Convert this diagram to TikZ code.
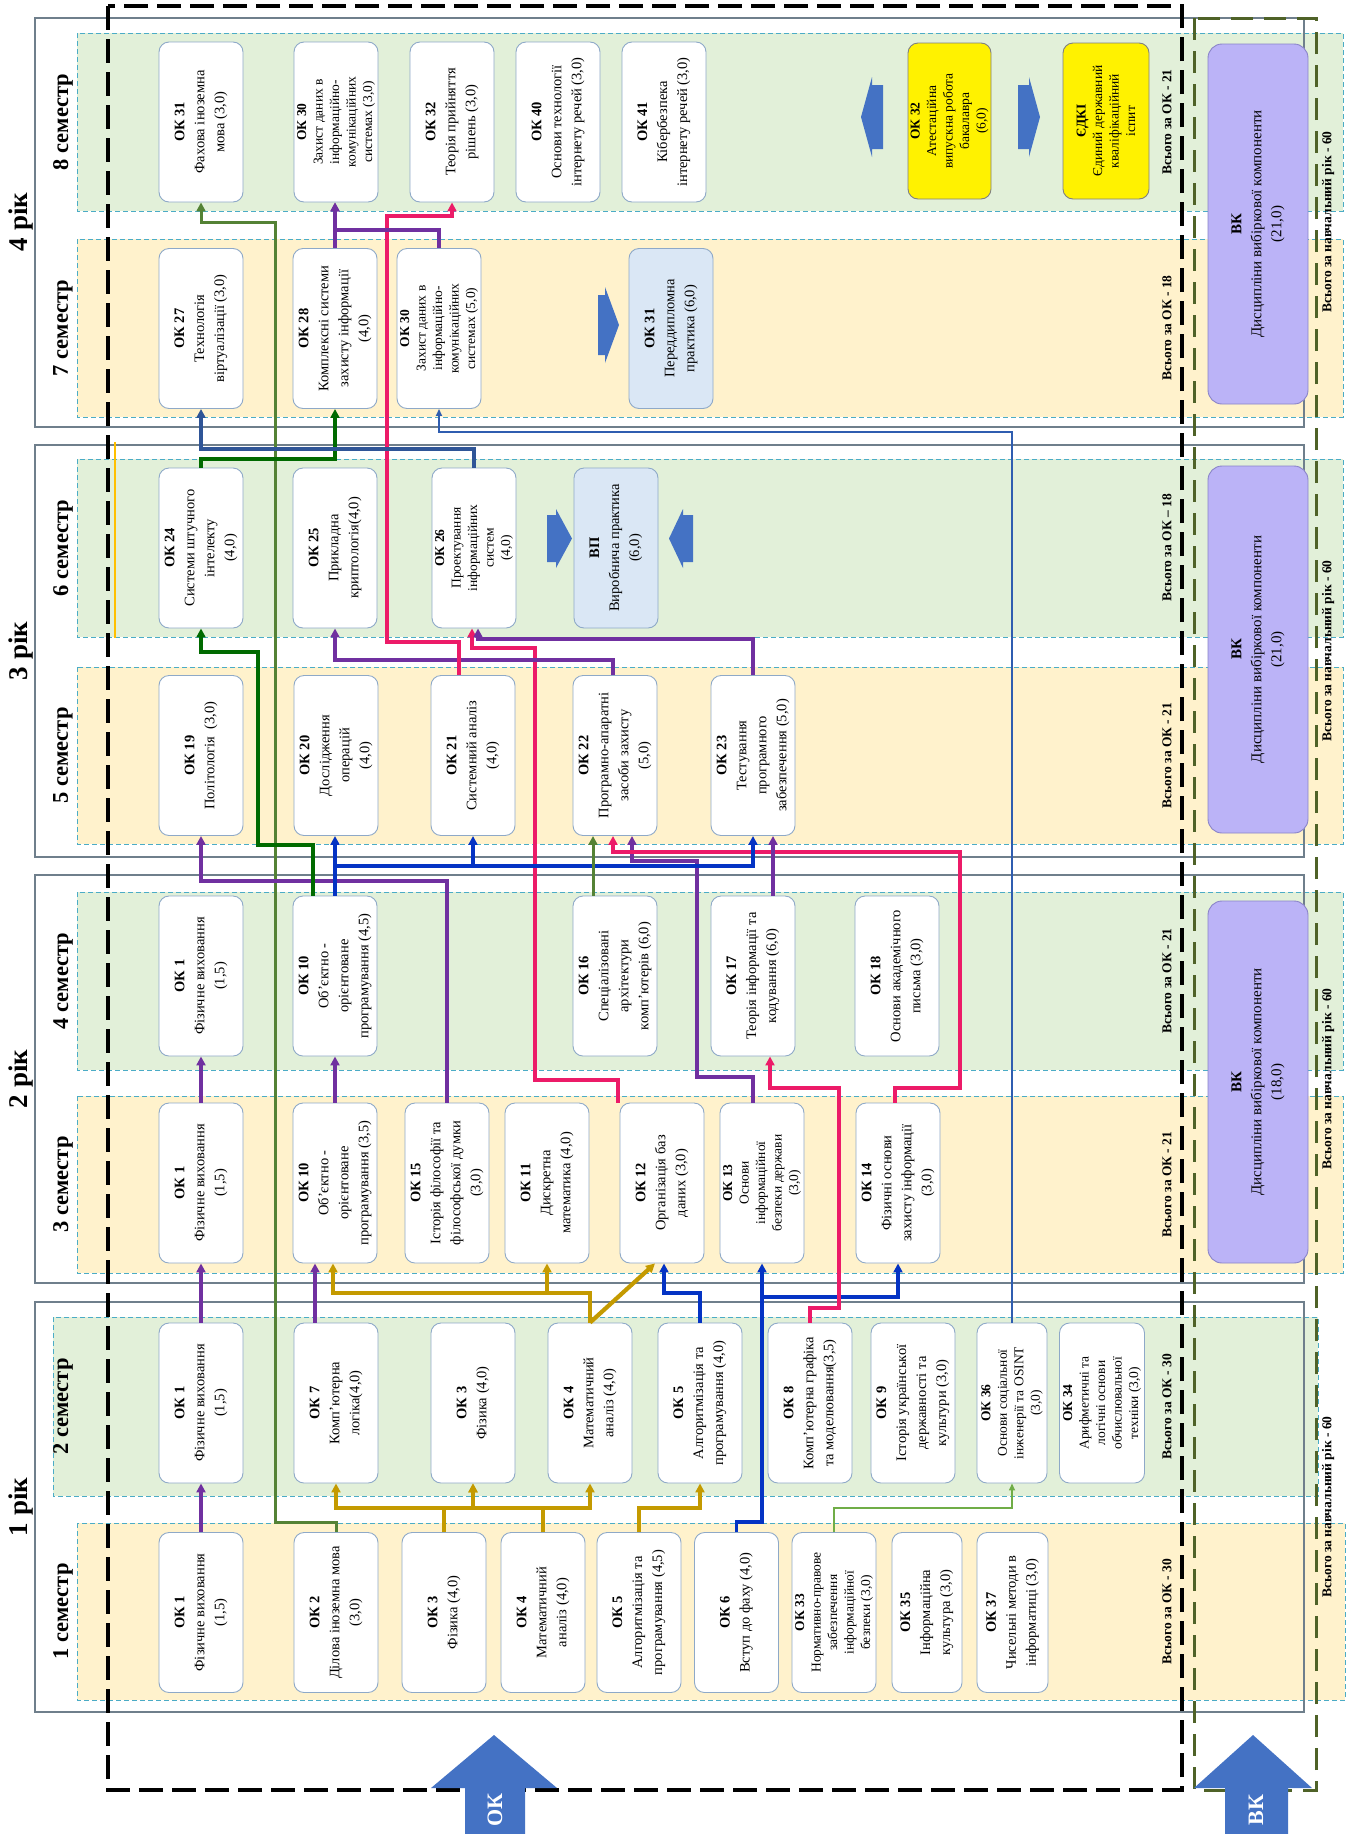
\documentclass[tikz,border=0pt]{standalone}
\usepackage{fontspec}
\setmainfont{Liberation Serif}
\usetikzlibrary{arrows.meta}
\definecolor{bandO}{HTML}{FFF2CC}
\definecolor{bandG}{HTML}{E2F0D9}
\definecolor{bandB}{HTML}{4BACC6}
\definecolor{frameC}{HTML}{6F7F8C}
\definecolor{boxB}{HTML}{8EA9C8}
\definecolor{vkF}{HTML}{BBB3F7}
\definecolor{vkB}{HTML}{8A84C8}
\definecolor{ltB}{HTML}{DAE7F5}
\definecolor{arrB}{HTML}{4472C4}
\definecolor{cPur}{HTML}{7030A0}
\definecolor{cGold}{HTML}{C49A00}
\definecolor{cBlue}{HTML}{0433C4}
\definecolor{cPink}{HTML}{EC1B68}
\definecolor{cOlive}{HTML}{548235}
\definecolor{cDGreen}{HTML}{006A00}
\definecolor{cSteel}{HTML}{2F5597}
\definecolor{cThinB}{HTML}{2F5DB0}
\definecolor{cLGreen}{HTML}{70AD47}
\definecolor{cYel}{HTML}{FFC000}
\definecolor{vkFrame}{HTML}{4F6228}
\begin{document}
\begin{tikzpicture}[x=1pt,y=-1pt,
  okb/.style={rotate=90, draw=boxB, line width=0.9pt, fill=white, rounded corners=10pt,
    align=center, inner xsep=3pt, inner ysep=1pt, minimum width=160pt, minimum height=84pt,
    font=\fontsize{14.5}{20}\selectfont},
  tight/.style={font=\fontsize{13.5}{16.5}\selectfont},
  vkb/.style={rotate=90, draw=vkB, line width=0.9pt, fill=vkF, rounded corners=14pt,
    align=center, minimum height=100pt, font=\fontsize{15}{20}\selectfont},
  band/.style={draw=bandB, line width=0.9pt, dash pattern=on 5pt off 3pt},
  yframe/.style={draw=frameC, line width=1.3pt},
  semlab/.style={rotate=90, font=\bfseries\fontsize{22.5}{25}\selectfont},
  yearlab/.style={rotate=90, font=\bfseries\fontsize{27}{30}\selectfont},
  totlab/.style={rotate=90, font=\bfseries\fontsize{13.5}{15}\selectfont},
  arr/.style={-{Triangle[length=9pt,width=9pt]}},
  arrs/.style={-{Triangle[length=7pt,width=6pt]}},
  lnPur/.style={draw=cPur, line width=3.2pt},
  lnGold/.style={draw=cGold, line width=4.2pt},
  lnBlue/.style={draw=cBlue, line width=3.4pt},
  lnPink/.style={draw=cPink, line width=3.2pt},
  lnOlive/.style={draw=cOlive, line width=3pt},
  lnDGreen/.style={draw=cDGreen, line width=4.2pt},
  lnSteel/.style={draw=cSteel, line width=4pt},
  lnThinB/.style={draw=cThinB, line width=1.8pt},
  lnLGreen/.style={draw=cLGreen, line width=1.6pt}
]
\useasboundingbox (0,0) rectangle (1351,1834);
\fill[white] (0,0) rectangle (1351,1834);

% semester bands
\path[band, fill=bandO] (77,1523) rectangle (1345,1700);
\path[band, fill=bandG] (53,1317) rectangle (1318,1496);
\path[band, fill=bandO] (77,1096) rectangle (1343,1273);
\path[band, fill=bandG] (77,892) rectangle (1343,1070);
\path[band, fill=bandO] (77,667) rectangle (1343,844);
\path[band, fill=bandG] (77,459) rectangle (1343,637);
\path[band, fill=bandO] (77,239) rectangle (1343,417);
\path[band, fill=bandG] (77,33) rectangle (1343,211);

% year frames
\draw[yframe] (35,1302) rectangle (1304,1712);
\draw[yframe] (35,875) rectangle (1304,1283);
\draw[yframe] (35,445) rectangle (1304,857);
\draw[yframe] (35,18) rectangle (1304,427);

\draw[cYel, line width=2pt] (115,442) -- (115,638);

% ---------- boxes ----------
% semester 1
\node[okb] (s1k1) at (201,1612.5) {{\bfseries ОК 1}\\Фізичне виховання\\(1,5)};
\node[okb] (s1k2) at (336,1612.5) {{\bfseries ОК 2}\\Ділова іноземна мова\\(3,0)};
\node[okb] (s1k3) at (444,1612.5) {{\bfseries ОК 3}\\Фізика (4,0)};
\node[okb] (s1k4) at (543,1612.5) {{\bfseries ОК 4}\\Математичний\\аналіз (4,0)};
\node[okb] (s1k5) at (639,1612.5) {{\bfseries ОК 5}\\Алгоритмізація та\\програмування (4,5)};
\node[okb] (s1k6) at (736.5,1612.5) {{\bfseries ОК 6}\\Вступ до фаху (4,0)};
\node[okb,tight] (s1k33) at (834,1612.5) {{\bfseries ОК 33}\\Нормативно-правове\\забезпечення\\інформаційної\\безпеки (3,0)};
\node[okb,minimum height=70pt] (s1k35) at (927,1612.5) {{\bfseries ОК 35}\\Інформаційна\\культура (3,0)};
\node[okb,minimum height=71pt] (s1k37) at (1012.5,1612.5) {{\bfseries ОК 37}\\Чисельні методи в\\інформатиці (3,0)};
% semester 2
\node[okb] (s2k1) at (201,1403) {{\bfseries ОК 1}\\Фізичне виховання\\(1,5)};
\node[okb] (s2k7) at (336,1403) {{\bfseries ОК 7}\\Комп’ютерна\\логіка(4,0)};
\node[okb] (s2k3) at (473,1403) {{\bfseries ОК 3}\\Фізика (4,0)};
\node[okb] (s2k4) at (590,1403) {{\bfseries ОК 4}\\Математичний\\аналіз (4,0)};
\node[okb] (s2k5) at (700,1403) {{\bfseries ОК 5}\\Алгоритмізація та\\програмування (4,0)};
\node[okb] (s2k8) at (810,1403) {{\bfseries ОК 8}\\Комп’ютерна графіка\\та моделювання(3,5)};
\node[okb] (s2k9) at (913,1403) {{\bfseries ОК 9}\\Історія української\\державності та\\культури (3,0)};
\node[okb,tight,minimum height=70pt] (s2k36) at (1012,1403) {{\bfseries ОК 36}\\Основи соціальної\\інженерії та OSINT\\(3,0)};
\node[okb,tight,minimum height=85pt] (s2k34) at (1102,1403) {{\bfseries ОК 34}\\Арифметичні та\\логічні основи\\обчислювальної\\техніки (3,0)};
% semester 3
\node[okb] (s3k1) at (201,1183) {{\bfseries ОК 1}\\Фізичне виховання\\(1,5)};
\node[okb] (s3k10) at (335,1183) {{\bfseries ОК 10}\\Об’єктно -\\орієнтоване\\програмування (3,5)};
\node[okb] (s3k15) at (447,1183) {{\bfseries ОК 15}\\Історія філософії та\\філософської думки\\(3,0)};
\node[okb] (s3k11) at (547,1183) {{\bfseries ОК 11}\\Дискретна\\математика (4,0)};
\node[okb] (s3k12) at (662,1183) {{\bfseries ОК 12}\\Організація баз\\даних (3,0)};
\node[okb,tight] (s3k13) at (762,1183) {{\bfseries ОК 13}\\Основи\\інформаційної\\безпеки держави\\(3,0)};
\node[okb] (s3k14) at (898,1183) {{\bfseries ОК 14}\\Фізичні основи\\захисту інформації\\(3,0)};
% semester 4
\node[okb] (s4k1) at (201,976) {{\bfseries ОК 1}\\Фізичне виховання\\(1,5)};
\node[okb] (s4k10) at (335,976) {{\bfseries ОК 10}\\Об’єктно -\\орієнтоване\\програмування (4,5)};
\node[okb] (s4k16) at (615,976) {{\bfseries ОК 16}\\Спеціалізовані\\архітектури\\комп’ютерів (6,0)};
\node[okb] (s4k17) at (753,976) {{\bfseries ОК 17}\\Теорія інформації та\\кодування (6,0)};
\node[okb] (s4k18) at (897,976) {{\bfseries ОК 18}\\Основи академічного\\письма (3,0)};
% semester 5
\node[okb] (s5k19) at (201,755.5) {{\bfseries ОК 19}\\Політологія \ (3,0)};
\node[okb] (s5k20) at (336,755.5) {{\bfseries ОК 20}\\Дослідження\\операцій\\(4,0)};
\node[okb] (s5k21) at (473,755.5) {{\bfseries ОК 21}\\Системний аналіз\\(4,0)};
\node[okb] (s5k22) at (615,755.5) {{\bfseries ОК 22}\\Програмно-апаратні\\засоби захисту\\(5,0)};
\node[okb] (s5k23) at (753,755.5) {{\bfseries ОК 23}\\Тестування\\програмного\\забезпечення (5,0)};
% semester 6
\node[okb] (s6k24) at (201,548) {{\bfseries ОК 24}\\Системи штучного\\інтелекту\\(4,0)};
\node[okb] (s6k25) at (335,548) {{\bfseries ОК 25}\\Прикладна\\криптологія(4,0)};
\node[okb,tight] (s6k26) at (474,548) {{\bfseries ОК 26}\\Проектування\\інформаційних\\систем\\(4,0)};
\node[okb,fill=ltB] (s6vp) at (616,548) {{\bfseries ВП}\\Виробнича практика\\(6,0)};
% semester 7
\node[okb] (s7k27) at (201,328.5) {{\bfseries ОК 27}\\Технологія\\віртуалізації (3,0)};
\node[okb] (s7k28) at (335,328.5) {{\bfseries ОК 28}\\Комплексні системи\\захисту інформації\\(4,0)};
\node[okb,tight] (s7k30) at (439,328.5) {{\bfseries ОК 30}\\Захист даних в\\інформаційно-\\комунікаційних\\системах (5,0)};
\node[okb,fill=ltB] (s7k31) at (671,328.5) {{\bfseries ОК 31}\\Переддипломна\\практика (6,0)};
% semester 8
\node[okb] (s8k31) at (201,122) {{\bfseries ОК 31}\\Фахова іноземна\\мова (3,0)};
\node[okb,tight] (s8k30) at (336,122) {{\bfseries ОК 30}\\Захист даних в\\інформаційно-\\комунікаційних\\системах (3,0)};
\node[okb] (s8k32) at (452,122) {{\bfseries ОК 32}\\Теорія прийняття\\рішень (3,0)};
\node[okb] (s8k40) at (558,122) {{\bfseries ОК 40}\\Основи технології\\інтернету речей (3,0)};
\node[okb] (s8k41) at (664,122) {{\bfseries ОК 41}\\Кібербезпека\\інтернету речей (3,0)};
\node[okb,tight,fill=yellow,draw=gray,minimum width=156pt,minimum height=83pt] (s8att) at (949.5,121) {{\bfseries ОК 32}\\Атестаційна\\випускна робота\\бакалавра\\(6,0)};
\node[okb,tight,fill=yellow,draw=gray,minimum width=156pt,minimum height=86pt] (s8edki) at (1106,121) {{\bfseries ЄДКІ}\\Єдиний державний\\кваліфікаційний\\іспит};

% VK boxes
\node[vkb,minimum width=362pt] (vk2) at (1258,1082) {{\bfseries ВК}\\Дисципліни вибіркової компоненти\\(18,0)};
\node[vkb,minimum width=367pt] (vk3) at (1258,649.5) {{\bfseries ВК}\\Дисципліни вибіркової компоненти\\(21,0)};
\node[vkb,minimum width=360pt] (vk4) at (1258,224) {{\bfseries ВК}\\Дисципліни вибіркової компоненти\\(21,0)};

% ---------- connectors ----------
% sem1 -> sem2
\draw[lnPur,arr] (s1k1.east) -- (s2k1.west);
\draw[lnOlive,arr] (s1k2.east) -- (336,1522) -- (275,1522) -- (275,222) -- (201,222) -- (s8k31.west);
\draw[lnGold,arr] (s1k3.east) -- (444,1508) -- (336,1508) -- (s2k7.west);
\draw[lnGold,arr] (s1k3.east) -- (444,1508) -- (473,1508) -- (s2k3.west);
\draw[lnGold,arr] (s1k4.east) -- (543,1508) -- (473,1508) -- (s2k3.west);
\draw[lnGold,arr] (s1k4.east) -- (543,1508) -- (590,1508) -- (s2k4.west);
\draw[lnGold,arr] (s1k5.east) -- (639,1508) -- (700,1508) -- (s2k5.west);
\draw[lnBlue,arr] (s1k6.east) -- (736.5,1522) -- (762,1522) -- (s3k13.west);
\draw[lnBlue,arr] (s1k6.east) -- (736.5,1522) -- (762,1522) -- (762,1297) -- (898,1297) -- (s3k14.west);
\draw[lnLGreen,arrs] (s1k33.east) -- (834,1508) -- (1012,1508) -- (s2k36.west);
% sem2 -> sem3
\draw[lnPur,arr] (s2k1.east) -- (s3k1.west);
\draw[lnPur,arr] ([xshift=-21pt]s2k7.east) -- ([xshift=-20pt]s3k10.west);
\draw[lnGold,arr] (s2k4.east) -- (590,1293) -- (333,1293) -- ([xshift=-2pt]s3k10.west);
\draw[lnGold,arr] (s2k4.east) -- (590,1293) -- (547,1293) -- (s3k11.west);
\draw[lnGold,arr] (s2k4.east) -- ([xshift=-7pt]s3k12.west);
\draw[lnBlue,arr] (s2k5.east) -- (700,1293) -- (664,1293) -- ([xshift=2pt]s3k12.west);
\draw[lnPink,arr] (s2k8.east) -- (810,1308) -- (839,1308) -- (839,1088) -- (770,1088) -- ([xshift=17pt]s4k17.west);
% sem3 -> sem4 / sem5
\draw[lnPur,arr] (s3k1.east) -- (s4k1.west);
\draw[lnPur,arr] (s3k10.east) -- (s4k10.west);
\draw[lnPur,arr] (s3k15.east) -- (447,881) -- (201,881) -- (s5k19.west);
\draw[lnPur,arr] ([xshift=-9pt]s3k13.east) -- (753,1077) -- (697,1077) -- (697,861) -- (632,861) -- ([xshift=17pt]s5k22.west);
\draw[lnPink,arr] ([xshift=-44pt]s3k12.east) -- (618,1080) -- (535,1080) -- (535,648) -- (472,648) -- ([xshift=-2pt]s6k26.west);
\draw[lnPink,arr] ([xshift=-3pt]s3k14.east) -- (895,1088) -- (960,1088) -- (960,852) -- (613,852) -- ([xshift=-2pt]s5k22.west);
% sem4 -> sem5 / sem6
\draw[lnDGreen,arr] ([xshift=-22pt]s4k10.east) -- (313,845) -- (258,845) -- (258,652) -- (201,652) -- (s6k24.west);
\draw[lnBlue,arr] (s4k10.east) -- (s4k10.east |- s5k20.west);
\draw[lnBlue,arr] (s4k10.east) -- (335,866) -- (473,866) -- (s5k21.west);
\draw[lnBlue,arr] (s4k10.east) -- (335,866) -- (753,866) -- (s5k23.west);
\draw[lnOlive,arr] ([xshift=-22pt]s4k16.east) -- ([xshift=-22pt]s5k22.west);
\draw[lnPur,arr] ([xshift=20pt]s4k17.east) -- ([xshift=20pt]s5k23.west);
% sem5 -> sem6 / sem8
\draw[lnPur,arr] ([xshift=-2pt]s5k22.east) -- (613,660) -- (335,660) -- (s6k25.west);
\draw[lnPink,arr] ([xshift=-14pt]s5k21.east) -- (459,642) -- (387,642) -- (387,216) -- (452,216) -- (s8k32.west);
\draw[lnPur,arr] (s5k23.east) -- (753,639) -- (478,639) -- ([xshift=4pt]s6k26.west);
% sem6 -> sem7
\draw[lnDGreen,arr] (s6k24.east) -- (201,459) -- (335,459) -- (s7k28.west);
\draw[lnSteel,arr] (s6k26.east) -- (474,449) -- (201,449) -- (s7k27.west);
\draw[lnThinB,arrs] (s2k36.east) -- (1012,432) -- (439,432) -- (s7k30.west);
% sem7 -> sem8
\draw[lnPur,arr] (s7k28.east) -- (s7k28.east |- s8k30.west);
\draw[lnPur,arr] (s7k30.east) -- (439,230) -- (335,230) -- ([xshift=-1pt]s8k30.west);

% small block arrows
\fill[arrB] (547,515) -- (556,515) -- (556,509) -- (572,538.5) -- (556,568) -- (556,562) -- (547,562) -- cycle;
\fill[arrB] (693,515) -- (683,515) -- (683,509) -- (669,538.5) -- (683,568) -- (683,562) -- (693,562) -- cycle;
\fill[arrB] (598,295) -- (605,295) -- (605,287) -- (619,325) -- (605,363) -- (605,355) -- (598,355) -- cycle;
\fill[arrB] (883,85) -- (872,85) -- (872,77) -- (861,117) -- (872,157) -- (872,149) -- (883,149) -- cycle;
\fill[arrB] (1018,85) -- (1029,85) -- (1029,77) -- (1040,117) -- (1029,157) -- (1029,149) -- (1018,149) -- cycle;

% labels
\node[yearlab] (y1) at (21,1507) {1 рік};
\node[yearlab] (y2) at (21,1079) {2 рік};
\node[yearlab] (y3) at (21,651) {3 рік};
\node[yearlab] (y4) at (21,222) {4 рік};
\node[semlab] (l1) at (63,1611.5) {1 семестр};
\node[semlab] (l2) at (63,1406.5) {2 семестр};
\node[semlab] (l3) at (63,1184.5) {3 семестр};
\node[semlab] (l4) at (63,981) {4 семестр};
\node[semlab] (l5) at (63,755.5) {5 семестр};
\node[semlab] (l6) at (63,548) {6 семестр};
\node[semlab] (l7) at (63,328) {7 семестр};
\node[semlab] (l8) at (63,122) {8 семестр};
\node[totlab] (t1) at (1167,1611.5) {Всього за ОК - 30};
\node[totlab] (t2) at (1167,1406.5) {Всього за ОК - 30};
\node[totlab] (t3) at (1167,1184.5) {Всього за ОК - 21};
\node[totlab] (t4) at (1167,981) {Всього за ОК - 21};
\node[totlab] (t5) at (1167,755.5) {Всього за ОК - 21};
\node[totlab] (t6) at (1167,548) {Всього за ОК – 18};
\node[totlab] (t7) at (1167,328) {Всього за ОК - 18};
\node[totlab] (t8) at (1167,122) {Всього за ОК - 21};
\node[totlab] (r1) at (1328,1507) {Всього за навчальний рік - 60};
\node[totlab] (r2) at (1328,1079) {Всього за навчальний рік - 60};
\node[totlab] (r3) at (1328,651) {Всього за навчальний рік - 60};
\node[totlab] (r4) at (1328,222) {Всього за навчальний рік - 60};

% dashed frames
\draw[black, line width=3.5pt, dash pattern=on 24pt off 9pt] (108,6) rectangle (1182,1790);
\draw[vkFrame, line width=3pt, dash pattern=on 22pt off 11pt] (1194,18) rectangle (1316,1790);

% big arrows
\fill[arrB] (494,1735) -- (557,1788) -- (525,1788) -- (525,1834) -- (465,1834) -- (465,1788) -- (431,1788) -- cycle;
\node[rotate=90, text=white, font=\bfseries\fontsize{22}{24}\selectfont] (okt) at (495,1810) {ОК};
\fill[arrB] (1253,1735) -- (1312,1788) -- (1288,1788) -- (1288,1834) -- (1225,1834) -- (1225,1788) -- (1194,1788) -- cycle;
\node[rotate=90, text=white, font=\bfseries\fontsize{22}{24}\selectfont] (vkt) at (1256,1810) {ВК};
\end{tikzpicture}
\end{document}
